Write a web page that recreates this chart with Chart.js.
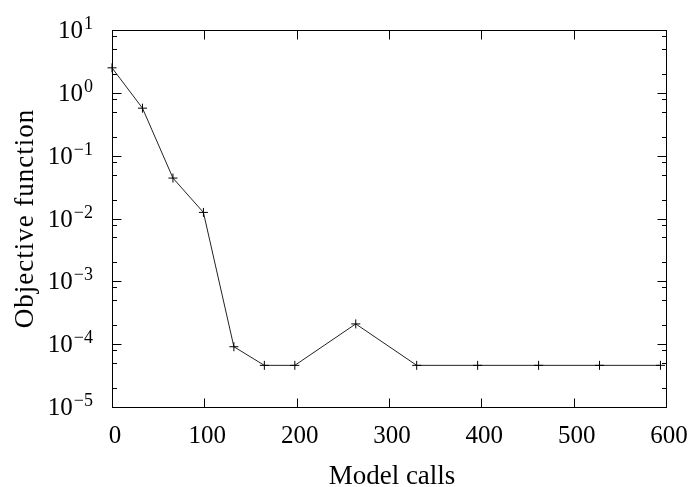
<!DOCTYPE html>
<html>
<head>
<meta charset="utf-8">
<script src="https://cdn.jsdelivr.net/npm/chart.js@4/dist/chart.umd.min.js"></script>
<style>
  html, body { margin: 0; padding: 0; background: #fff; }
  #wrap { width: 691px; height: 487px; }
</style>
</head>
<body>
<div id="wrap"><canvas id="objChart"></canvas></div>
<script>
// evaluation counts and objective values
const modelCalls = [0, 33, 66, 99, 132, 165, 198, 264, 330, 396, 462, 528, 594];
const objective = [2.5, 0.57, 0.044, 0.0125, 9.1e-5, 4.6e-5, 4.6e-5, 2.1e-4, 4.6e-5, 4.6e-5, 4.6e-5, 4.6e-5, 4.6e-5];

// axis ticks
const xTicks = [0, 100, 200, 300, 400, 500, 600];
const yExponents = [-5, -4, -3, -2, -1, 0, 1];
const yMinorFactors = [2, 5, 8];

const serif = '"Liberation Serif", "DejaVu Serif", serif';

// frame, inward ticks, tick labels and axis titles
const framePlugin = {
    id: 'frame',
    afterDraw(chart) {
        const ctx = chart.ctx;
        const a = chart.chartArea;
        const xs = chart.scales.x;
        const ys = chart.scales.y;
        const L = Math.round(a.left) + 0.5, R = Math.round(a.right) + 0.5;
        const T = Math.round(a.top) + 0.5, B = Math.round(a.bottom) + 0.5;

        ctx.save();
        ctx.strokeStyle = '#000';
        ctx.lineWidth = 1;
        ctx.strokeRect(L, T, R - L, B - T);

        ctx.beginPath();
        xTicks.forEach(v => {
            const px = Math.round(xs.getPixelForValue(v)) + 0.5;
            ctx.moveTo(px, B); ctx.lineTo(px, B - 9);
            ctx.moveTo(px, T); ctx.lineTo(px, T + 9);
        });
        yExponents.forEach(e => {
            const py = Math.round(ys.getPixelForValue(Math.pow(10, e))) + 0.5;
            ctx.moveTo(L, py); ctx.lineTo(L + 9, py);
            ctx.moveTo(R, py); ctx.lineTo(R - 9, py);
            if (e < 1) {
                yMinorFactors.forEach(f => {
                    const pm = Math.round(ys.getPixelForValue(f * Math.pow(10, e))) + 0.5;
                    ctx.moveTo(L, pm); ctx.lineTo(L + 4.5, pm);
                    ctx.moveTo(R, pm); ctx.lineTo(R - 4.5, pm);
                });
            }
        });
        ctx.stroke();

        ctx.fillStyle = '#000';
        ctx.textBaseline = 'alphabetic';

        // x tick labels
        ctx.font = '25px ' + serif;
        ctx.textAlign = 'center';
        xTicks.forEach(v => {
            ctx.fillText(String(v), xs.getPixelForValue(v) + 3, B + 35);
        });

        // y tick labels as 10 with a raised exponent
        yExponents.forEach(e => {
            const py = ys.getPixelForValue(Math.pow(10, e));
            const exp = e < 0 ? '\u2212' + Math.abs(e) : String(e);
            ctx.font = '18px ' + serif;
            ctx.textAlign = 'right';
            const ew = ctx.measureText(exp).width;
            ctx.fillText(exp, 93, py - 1);
            ctx.font = '25px ' + serif;
            ctx.fillText('10', 93 - ew - 1, py + 8);
        });

        // axis titles
        ctx.font = '27px ' + serif;
        ctx.textAlign = 'center';
        ctx.fillText('Model calls', (a.left + a.right) / 2 + 3, 484);
        ctx.save();
        ctx.translate(33, (a.top + a.bottom) / 2);
        ctx.rotate(-Math.PI / 2);
        ctx.letterSpacing = '1px';
        ctx.fillText('Objective function', 0, 0);
        ctx.restore();
        ctx.restore();
    }
};

new Chart(document.getElementById('objChart'), {
    type: 'line',
    data: {
        labels: modelCalls,
        datasets: [{
            data: modelCalls.map((x, i) => ({ x: x, y: objective[i] })),
            borderColor: '#222',
            borderWidth: 1,
            pointStyle: 'cross',
            pointRadius: 4.5,
            pointBorderColor: '#000',
            pointBorderWidth: 1,
            tension: 0,
            fill: false,
            clip: false
        }]
    },
    options: {
        responsive: true,
        maintainAspectRatio: false,
        animation: false,
        layout: { padding: { left: 112, right: 25, top: 30, bottom: 80 } },
        plugins: { legend: { display: false }, tooltip: { enabled: false } },
        scales: {
            x: { type: 'linear', min: 0, max: 600, display: false },
            y: { type: 'logarithmic', min: 1e-5, max: 10, display: false }
        }
    },
    plugins: [framePlugin]
});
</script>
</body>
</html>
